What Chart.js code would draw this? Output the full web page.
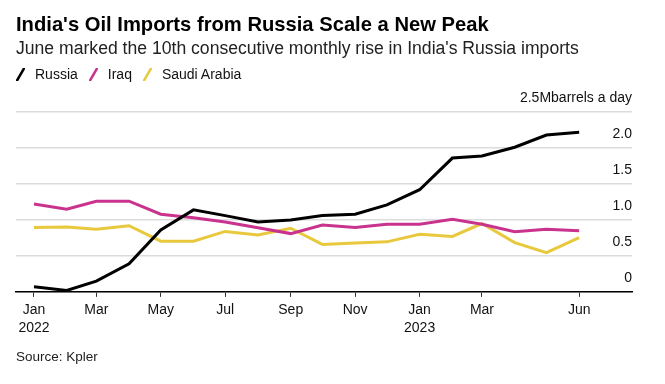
<!DOCTYPE html>
<html>
<head>
<meta charset="utf-8">
<script src="https://cdn.jsdelivr.net/npm/chart.js@4.4.1/dist/chart.umd.min.js"></script>
<style>
  html, body { margin: 0; padding: 0; background: #fff; }
  #wrap { position: relative; width: 665px; height: 384px; overflow: hidden; font-family: "Liberation Sans", Arial, sans-serif; }
  #chart { position: absolute; left: 0; top: 0; }
  .txt { position: absolute; white-space: nowrap; color: #000; }
  #title { left: 16px; top: 14px; font-size: 20.2px; line-height: 20.5px; font-weight: bold; }
  #subtitle { left: 16px; top: 40px; font-size: 17.6px; line-height: 17.4px; color: #222; }
  #legend { left: 16px; top: 67px; font-size: 14px; line-height: 14px; color: #111; }
  #legend span.item { display: inline-block; margin-right: 11px; }
  #legend svg { vertical-align: -2px; margin-right: 10px; }
  #source { left: 16px; top: 350px; font-size: 13.5px; line-height: 13.5px; color: #222; }
</style>
</head>
<body>
<div id="wrap">
  <canvas id="chart" width="665" height="384"></canvas>
  <div class="txt" id="title">India's Oil Imports from Russia Scale a New Peak</div>
  <div class="txt" id="subtitle">June marked the 10th consecutive monthly rise in India's Russia imports</div>
  <div class="txt" id="legend"></div>
  <div class="txt" id="source">Source: Kpler</div>
</div>
<script>
// ---- Data (million barrels a day) ----
const months = ["2022-01","2022-02","2022-03","2022-04","2022-05","2022-06","2022-07","2022-08","2022-09",
                "2022-10","2022-11","2022-12","2023-01","2023-02","2023-03","2023-04","2023-05","2023-06"];
const russia = [0.07, 0.02, 0.15, 0.39, 0.86, 1.14, 1.06, 0.97, 1.00, 1.06, 1.08, 1.21, 1.42, 1.86, 1.89, 2.01, 2.18, 2.22];
const iraq   = [1.22, 1.15, 1.26, 1.26, 1.08, 1.03, 0.97, 0.89, 0.81, 0.93, 0.895, 0.94, 0.94, 1.01, 0.94, 0.835, 0.87, 0.85];
const saudi  = [0.895, 0.90, 0.87, 0.92, 0.705, 0.705, 0.84, 0.79, 0.885, 0.66, 0.68, 0.695, 0.80, 0.77, 0.95, 0.685, 0.545, 0.755];
const seriesNames = ["Russia", "Iraq", "Saudi Arabia"];
const xTickMonths = ["2022-01","2022-03","2022-05","2022-07","2022-09","2022-11","2023-01","2023-03","2023-06"];
const xTickLabels = [["Jan","2022"],"Mar","May","Jul","Sep","Nov",["Jan","2023"],"Mar","Jun"];
const yTickValues = [0, 0.5, 1.0, 1.5, 2.0, 2.5];
const yTickLabels = ["0", "0.5", "1.0", "1.5", "2.0", "2.5Mbarrels a day"];

const colors = ["#000000", "#c9338e", "#e8c93e"];

// days since 2022-01-01 for a "YYYY-MM" month string
const ORIGIN = Date.UTC(2022, 0, 1);
function dayOf(m) {
  const [y, mo] = m.split("-").map(Number);
  return (Date.UTC(y, mo - 1, 1) - ORIGIN) / 86400000;
}
function toPoints(vals) { return months.map((m, i) => ({ x: dayOf(m), y: vals[i] })); }

// legend
const legend = document.getElementById("legend");
seriesNames.forEach((n, i) => {
  const s = document.createElement("span");
  s.className = "item";
  s.innerHTML = '<svg width="9" height="13" viewBox="0 0 9 13"><line x1="1" y1="12.5" x2="8" y2="0.5" stroke="' + colors[i] + '" stroke-width="2.6" stroke-linecap="round"/></svg>' + n;
  legend.appendChild(s);
});

const fontFamily = '"Liberation Sans", Arial, sans-serif';

new Chart(document.getElementById("chart"), {
  type: "line",
  data: {
    datasets: [
      { label: seriesNames[0], data: toPoints(russia), borderColor: colors[0] },
      { label: seriesNames[1], data: toPoints(iraq),   borderColor: colors[1] },
      { label: seriesNames[2], data: toPoints(saudi),  borderColor: colors[2] }
    ]
  },
  options: {
    responsive: false,
    animation: false,
    events: [],
    layout: { padding: { left: 16, right: 33, top: 112, bottom: 43 } },
    elements: {
      line: { borderWidth: 3, tension: 0, borderCapStyle: "butt", borderJoinStyle: "miter" },
      point: { radius: 0 }
    },
    plugins: { legend: { display: false }, tooltip: { enabled: false }, title: { display: false } },
    scales: {
      x: {
        type: "linear",
        min: -17,
        max: 566,
        afterBuildTicks: (scale) => { scale.ticks = xTickMonths.map(m => ({ value: dayOf(m) })); },
        grid: { display: true, drawOnChartArea: false, drawTicks: true, tickLength: 5, color: "#333", lineWidth: 1 },
        border: { display: true, color: "#000", width: 1.5 },
        ticks: {
          autoSkip: false, maxRotation: 0, minRotation: 0, padding: 4,
          color: "#111",
          font: { family: fontFamily, size: 14, lineHeight: 1.29 },
          callback: (v, i) => xTickLabels[i]
        }
      },
      y: {
        position: "right",
        min: 0,
        max: 2.5,
        afterBuildTicks: (scale) => { scale.ticks = yTickValues.map(v => ({ value: v })); },
        afterFit: (scale) => { scale.width = 0; },
        grid: { color: "#dcdcdc", lineWidth: 1.5, drawTicks: false },
        border: { display: false },
        ticks: {
          mirror: true, padding: 0, labelOffset: -14,
          color: "#111",
          font: { family: fontFamily, size: 14 },
          callback: (v, i) => yTickLabels[i]
        }
      }
    }
  }
});
</script>
</body>
</html>
